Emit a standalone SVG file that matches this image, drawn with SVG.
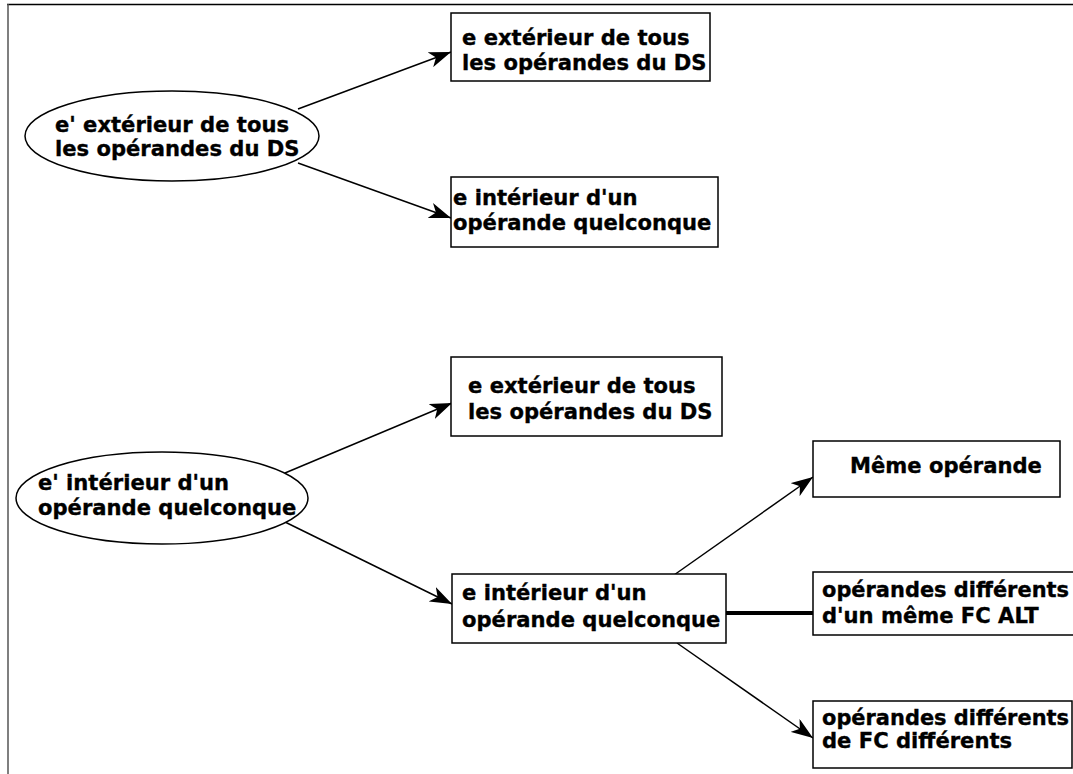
<svg xmlns="http://www.w3.org/2000/svg" width="1073" height="774" viewBox="0 0 1073 774">
  <style>
    .node { fill: #ffffff; stroke: #000000; stroke-width: 1.5; }
    .lbl { font-family: "DejaVu Sans", Verdana, sans-serif; font-weight: bold; font-size: 21.1px; fill: #000000; stroke: #000000; stroke-width: 0.35; }
    .edge { stroke: #000000; stroke-width: 1.5; fill: none; marker-end: url(#arrow); }
    .bar { stroke: #000000; stroke-width: 4; fill: none; }
  </style>
  <defs>
    <marker id="arrow" markerUnits="userSpaceOnUse" markerWidth="24" markerHeight="16" refX="22" refY="8" orient="auto" viewBox="0 0 24 16">
      <path d="M0,0 L22,8 L0,16 L6,8 Z" fill="#000000"/>
    </marker>
  </defs>
  <rect width="1073" height="774" fill="#ffffff"/>

  <!-- page frame -->
  <g id="frame">
    <line x1="7" y1="4.5" x2="1073" y2="4.5" stroke="#000000" stroke-width="1.5"/>
    <line x1="8" y1="4" x2="8" y2="774" stroke="#555555" stroke-width="1.5"/>
  </g>

  <g id="connectors">
    <line class="edge" x1="298" y1="109" x2="451" y2="52"/>
    <line class="edge" x1="298" y1="163" x2="451" y2="218"/>
    <line class="edge" x1="285" y1="473" x2="452" y2="403"/>
    <line class="edge" x1="285" y1="522" x2="452" y2="604"/>
    <line class="edge" x1="674" y1="575" x2="813" y2="477"/>
    <line class="edge" x1="677" y1="643" x2="813" y2="738"/>
    <line class="bar" x1="726" y1="613" x2="813" y2="613"/>
  </g>

  <g id="e-prime-exterieur">
    <ellipse class="node" cx="172" cy="136" rx="147" ry="45"/>
    <text class="lbl" x="55" y="132">e' extérieur de tous</text>
    <text class="lbl" x="55" y="156">les opérandes du DS</text>
  </g>

  <g id="e-exterieur-1">
    <rect class="node" x="451" y="13" width="259" height="68"/>
    <text class="lbl" x="462" y="45">e extérieur de tous</text>
    <text class="lbl" x="462" y="70">les opérandes du DS</text>
  </g>

  <g id="e-interieur-1">
    <rect class="node" x="451" y="177" width="267" height="70"/>
    <text class="lbl" x="453" y="205">e intérieur d'un</text>
    <text class="lbl" x="453" y="230">opérande quelconque</text>
  </g>

  <g id="e-prime-interieur">
    <ellipse class="node" cx="162" cy="498" rx="146" ry="46"/>
    <text class="lbl" x="38" y="490">e' intérieur d'un</text>
    <text class="lbl" x="38" y="515">opérande quelconque</text>
  </g>

  <g id="e-exterieur-2">
    <rect class="node" x="451" y="357" width="271" height="79"/>
    <text class="lbl" x="468" y="393">e extérieur de tous</text>
    <text class="lbl" x="468" y="419">les opérandes du DS</text>
  </g>

  <g id="e-interieur-2">
    <rect class="node" x="452" y="574" width="274" height="69"/>
    <text class="lbl" x="462" y="600">e intérieur d'un</text>
    <text class="lbl" x="462" y="627">opérande quelconque</text>
  </g>

  <g id="meme-operande">
    <rect class="node" x="813" y="441" width="247" height="56"/>
    <text class="lbl" x="850" y="473">Même opérande</text>
  </g>

  <g id="operandes-meme-fc">
    <rect class="node" x="813" y="572" width="270" height="63"/>
    <text class="lbl" x="822" y="597" textLength="247" lengthAdjust="spacingAndGlyphs">opérandes différents</text>
    <text class="lbl" x="822" y="623">d'un même FC ALT</text>
  </g>

  <g id="operandes-fc-differents">
    <rect class="node" x="813" y="701" width="259" height="67"/>
    <text class="lbl" x="822" y="725" textLength="247" lengthAdjust="spacingAndGlyphs">opérandes différents</text>
    <text class="lbl" x="822" y="748">de FC différents</text>
  </g>
</svg>
